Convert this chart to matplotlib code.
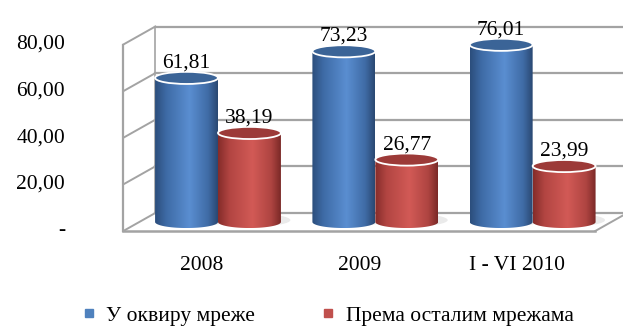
import matplotlib.pyplot as plt
import numpy as np
from matplotlib.colors import LinearSegmentedColormap
from matplotlib.patches import Ellipse, Polygon
from matplotlib.lines import Line2D

plt.rcParams['font.family'] = ['Liberation Serif', 'DejaVu Serif']

categories = ["2008", "2009", "I - VI 2010"]
series_names = ["У оквиру мреже", "Према осталим мрежама"]
within_network = [61.81, 73.23, 76.01]
other_networks = [38.19, 26.77, 23.99]
y_ticks = [0, 20, 40, 60, 80]

# 3D look: depth offset of the back wall, in data units
dx, dy = 0.2034, 7.73
bar_w = 0.40
eh = 2.6            # half height of the cylinder ellipses
wall_col = "#a3a3a3"
fs = 15.5

blue_cmap = LinearSegmentedColormap.from_list(
    "blue_cyl", [(0, "#2c4e7c"), (0.18, "#3e6ba6"), (0.55, "#5a8ed1"),
                 (0.85, "#3f6ba5"), (1, "#2a4872")])
red_cmap = LinearSegmentedColormap.from_list(
    "red_cyl", [(0, "#852c2a"), (0.18, "#b24542"), (0.55, "#d25a56"),
                (0.85, "#ae4441"), (1, "#7b2927")])

fig = plt.figure(figsize=(6.23, 3.27), dpi=100)
ax = fig.add_axes([0, 0, 1, 1])
ax.axis("off")

n = len(categories)
left, right = -0.5, n - 0.5
top = y_ticks[-1]

# back wall gridlines and left wall
for v in y_ticks:
    ax.plot([left + dx, right + dx + 0.3], [v + dy, v + dy], color=wall_col, lw=1.6, zorder=1)
    ax.plot([left, left + dx], [v, v + dy], color=wall_col, lw=1.4, zorder=1)
ax.plot([left, left], [0, top], color=wall_col, lw=1.6, zorder=1)
ax.plot([left + dx, left + dx], [dy, top + dy], color=wall_col, lw=1.2, zorder=1)
# floor front edge and right edge
ax.plot([left, right], [0, 0], color=wall_col, lw=1.8, zorder=1)
ax.plot([right, right + dx], [0, dy], color=wall_col, lw=1.4, zorder=1)


def cylinder(xc, val, cmap, top_color, z):
    x0 = xc - bar_w / 2
    b = dy / 2
    t = val + dy / 2
    th = np.linspace(np.pi, 2 * np.pi, 60)
    bottom = np.column_stack([xc + bar_w / 2 * np.cos(th), b + eh * np.sin(th)])
    pts = np.vstack([[x0, t], bottom, [x0 + bar_w, t]])
    # faint shadow on the floor
    ax.add_patch(Ellipse((xc + 0.05, b + 0.8), bar_w * 1.05, eh * 2.0,
                         facecolor="#c4c4c4", edgecolor="none", alpha=0.35, zorder=z - 0.5))
    body = Polygon(pts, closed=True, facecolor="none", edgecolor="none",
                   transform=ax.transData)
    grad = np.linspace(0, 1, 200).reshape(1, -1)
    im = ax.imshow(grad, extent=(x0, x0 + bar_w, b - eh, t), aspect="auto",
                   cmap=cmap, zorder=z, interpolation="bilinear")
    im.set_clip_path(body)
    ax.add_patch(Ellipse((xc, t), bar_w, 2 * eh, facecolor=top_color,
                         edgecolor="white", lw=1.3, zorder=z + 0.1))


for i in range(n):
    cx = i + dx / 2
    cylinder(cx - bar_w / 2, within_network[i], blue_cmap, "#3b6497", 3 + 2 * i)
    cylinder(cx + bar_w / 2, other_networks[i], red_cmap, "#9c3a38", 4 + 2 * i)
    for k, vals in enumerate([within_network, other_networks]):
        bx = cx + (k - 0.5) * bar_w
        ax.text(bx, vals[i] + dy / 2 + 6.4, f"{vals[i]:.2f}".replace(".", ","),
                ha="center", va="center", fontsize=fs, zorder=20)
    ax.text(i, -14.6, categories[i], ha="center", va="center", fontsize=fs)

for v in y_ticks:
    lab = "-" if v == 0 else f"{v:.2f}".replace(".", ",")
    ax.text(-0.871, v, lab, ha="right", va="center", fontsize=fs)

ax.set_xlim(-1.284, 2.676)
ax.set_ylim(-41.2, 99.1)

handles = [Line2D([], [], ls="none", marker="s", markersize=6, color="#4f81bd"),
           Line2D([], [], ls="none", marker="s", markersize=6, color="#c0504d")]
fig.legend(handles, series_names, loc="center", bbox_to_anchor=(0.525, 0.035),
           ncol=2, frameon=False, fontsize=15.5, handlelength=0.8, handletextpad=0.4,
           columnspacing=3.0)

fig.savefig("out.png", dpi=100)
